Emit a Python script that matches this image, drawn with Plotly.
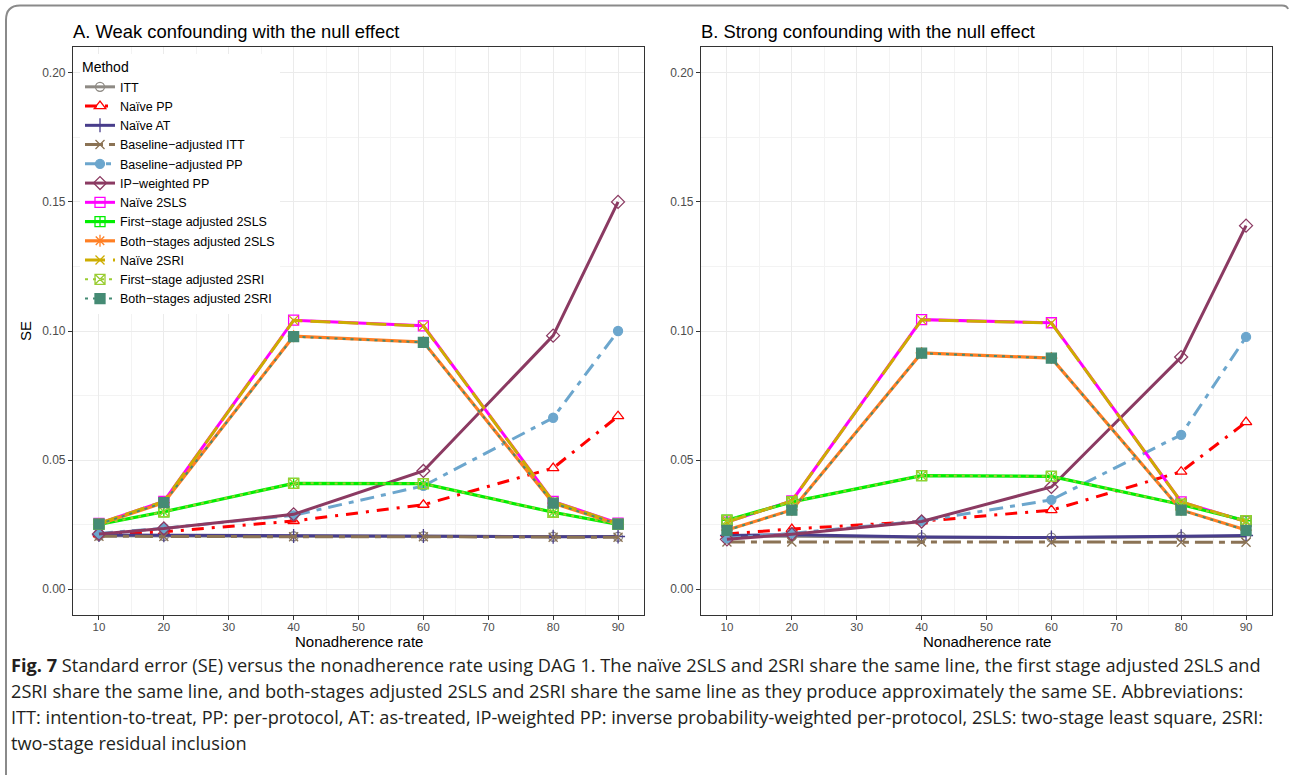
import plotly.graph_objects as go

W, H = 1290, 775

nonadherence = [10, 20, 40, 60, 80, 90]

methods = ["ITT", "Naïve PP", "Naïve AT", "Baseline−adjusted ITT", "Baseline−adjusted PP",
           "IP−weighted PP", "Naïve 2SLS", "First−stage adjusted 2SLS", "Both−stages adjusted 2SLS",
           "Naïve 2SRI", "First−stage adjusted 2SRI", "Both−stages adjusted 2SRI"]

# Panel A: weak confounding
itt_a = [0.0207, 0.0206, 0.0205, 0.0205, 0.0203, 0.0203]
naive_pp_a = [0.0212, 0.0222, 0.0264, 0.0327, 0.0469, 0.0670]
naive_at_a = [0.0210, 0.0209, 0.0206, 0.0206, 0.0203, 0.0204]
base_itt_a = [0.0205, 0.0204, 0.0203, 0.0203, 0.0201, 0.0201]
base_pp_a = [0.0216, 0.0236, 0.0286, 0.0400, 0.0664, 0.1000]
ipw_pp_a = [0.0214, 0.0235, 0.0290, 0.0458, 0.0982, 0.1500]
naive_2sls_a = [0.0255, 0.0340, 0.1042, 0.1020, 0.0340, 0.0256]
first_2sls_a = [0.0251, 0.0300, 0.0410, 0.0409, 0.0298, 0.0251]
both_2sls_a = [0.0252, 0.0335, 0.0980, 0.0957, 0.0333, 0.0252]
naive_2sri_a = [0.0255, 0.0340, 0.1041, 0.1019, 0.0339, 0.0255]
first_2sri_a = [0.0251, 0.0300, 0.0410, 0.0409, 0.0298, 0.0251]
both_2sri_a = [0.0252, 0.0335, 0.0978, 0.0956, 0.0333, 0.0252]

# Panel B: strong confounding
itt_b = [0.0204, 0.0205, 0.0201, 0.0200, 0.0203, 0.0205]
naive_pp_b = [0.0214, 0.0233, 0.0263, 0.0306, 0.0455, 0.0647]
naive_at_b = [0.0208, 0.0211, 0.0202, 0.0200, 0.0205, 0.0208]
base_itt_b = [0.0183, 0.0183, 0.0183, 0.0182, 0.0182, 0.0182]
base_pp_b = [0.0197, 0.0216, 0.0264, 0.0346, 0.0598, 0.0977]
ipw_pp_b = [0.0193, 0.0213, 0.0262, 0.0396, 0.0899, 0.1408]
naive_2sls_b = [0.0260, 0.0342, 0.1044, 0.1032, 0.0338, 0.0262]
first_2sls_b = [0.0267, 0.0338, 0.0440, 0.0437, 0.0328, 0.0265]
both_2sls_b = [0.0229, 0.0307, 0.0915, 0.0895, 0.0307, 0.0229]
naive_2sri_b = [0.0260, 0.0342, 0.1043, 0.1031, 0.0338, 0.0262]
first_2sri_b = [0.0267, 0.0338, 0.0440, 0.0437, 0.0328, 0.0265]
both_2sri_b = [0.0228, 0.0306, 0.0914, 0.0895, 0.0306, 0.0228]

panel_a = [itt_a, naive_pp_a, naive_at_a, base_itt_a, base_pp_a, ipw_pp_a,
           naive_2sls_a, first_2sls_a, both_2sls_a, naive_2sri_a, first_2sri_a, both_2sri_a]
panel_b = [itt_b, naive_pp_b, naive_at_b, base_itt_b, base_pp_b, ipw_pp_b,
           naive_2sls_b, first_2sls_b, both_2sls_b, naive_2sri_b, first_2sri_b, both_2sri_b]

colors = ["#8E8A84", "#FF0000", "#483D8B", "#8B7355", "#6CA6CD", "#8B3A62",
          "#FF00FF", "#00EE00", "#FF7F24", "#CDAD00", "#9ACD32", "#458B74"]
symbols = ["circle-open", "triangle-up-open", "cross-thin-open", "x-thin-open", "circle",
           "diamond-open", "square-open", "square-cross-open", "asterisk-open", "x-thin-open",
           "square-x-open", "square"]
dashes = ["solid", "12px,8px,3px,8px", "solid", "18px,6px,6px,6px", "14px,7px,5px,7px", "solid",
          "solid", "solid", "solid", "20px,8px", "3px,5px", "3px,5px"]
widths = [3, 3, 3, 3, 3, 3, 3, 3.2, 3.2, 3, 2, 2]
msizes = [9, 10, 10, 9, 9, 10, 10, 10, 10, 9, 10, 10]

fig = go.Figure()

for panel, (xa, ya) in [(panel_a, ("x", "y")), (panel_b, ("x2", "y2"))]:
    for i, name in enumerate(methods):
        fig.add_trace(go.Scatter(
            x=nonadherence, y=panel[i], mode="lines+markers", name=name,
            legendgroup=name, showlegend=(xa == "x"),
            line=dict(color=colors[i], width=widths[i], dash=dashes[i]),
            marker=dict(symbol=symbols[i], size=msizes[i], color=colors[i],
                        line=dict(color=colors[i], width=1.3)),
            xaxis=xa, yaxis=ya,
        ))

px = lambda v: v / W
py = lambda v: 1 - v / H

FONT = "Liberation Sans, Arial, sans-serif"
axis_common = dict(
    showline=True, mirror=True, linecolor="#333333", linewidth=1.2,
    ticks="outside", ticklen=4, tickcolor="#333333", tickwidth=1,
    showgrid=True, gridcolor="#EBEBEB", gridwidth=1.1, zeroline=False,
    tickfont=dict(family=FONT, size=12, color="#4D4D4D"),
)
xaxis_common = dict(axis_common, range=[6, 94], tickvals=[10, 20, 30, 40, 50, 60, 70, 80, 90],
                    tickfont=dict(family=FONT, size=11.5, color="#4D4D4D"),
                    ticklabelstandoff=-3,
                    minor=dict(tickvals=[15, 25, 35, 45, 55, 65, 75, 85], showgrid=True,
                               gridcolor="#F3F3F3", gridwidth=0.6, ticks=""))
yaxis_common = dict(axis_common, range=[-0.01, 0.21], tickvals=[0, 0.05, 0.10, 0.15, 0.20],
                    tickformat=".2f",
                    minor=dict(tickvals=[0.025, 0.075, 0.125, 0.175], showgrid=True,
                               gridcolor="#F3F3F3", gridwidth=0.6, ticks=""))

y_dom = [py(615), py(47)]
fig.update_layout(
    width=W, height=H,
    margin=dict(l=0, r=0, t=0, b=0),
    paper_bgcolor="white", plot_bgcolor="white",
    font=dict(family=FONT, color="#000000"),
    xaxis=dict(xaxis_common, domain=[px(73), px(644)], anchor="y"),
    yaxis=dict(yaxis_common, domain=y_dom, anchor="x",
               title=dict(text="SE", standoff=6,
                          font=dict(family=FONT, size=15, color="#000000"))),
    xaxis2=dict(xaxis_common, domain=[px(701), px(1272)], anchor="y2"),
    yaxis2=dict(yaxis_common, domain=y_dom, anchor="x2"),
    legend=dict(
        x=px(80), y=py(54), xanchor="left", yanchor="top",
        bgcolor="white", borderwidth=0,
        title=dict(text="Method", font=dict(size=14, color="#000000")),
        font=dict(family=FONT, size=12.5, color="#000000"),
        tracegroupgap=0, itemwidth=30,
    ),
    showlegend=True,
)

axis_title_font = dict(family=FONT, size=15, color="#000000")
for cx in (358.5, 986.5):
    fig.add_annotation(text="Nonadherence rate", xref="paper", yref="paper",
                       x=px(cx), y=py(641), xanchor="center", yanchor="middle",
                       showarrow=False, font=axis_title_font)

title_font = dict(family=FONT, size=18.4, color="#000000")
fig.add_annotation(text="A. Weak confounding with the null effect", xref="paper", yref="paper",
                   x=px(71), y=py(31), xanchor="left", yanchor="middle", showarrow=False, font=title_font)
fig.add_annotation(text="B. Strong confounding with the null effect", xref="paper", yref="paper",
                   x=px(699), y=py(31), xanchor="left", yanchor="middle", showarrow=False, font=title_font)

caption_lines = [
    "<b>Fig. 7</b> Standard error (SE) versus the nonadherence rate using DAG 1. The naïve 2SLS and 2SRI share the same line, the first stage adjusted 2SLS and",
    "2SRI share the same line, and both-stages adjusted 2SLS and 2SRI share the same line as they produce approximately the same SE. Abbreviations:",
    "ITT: intention-to-treat, PP: per-protocol, AT: as-treated, IP-weighted PP: inverse probability-weighted per-protocol, 2SLS: two-stage least square, 2SRI:",
    "two-stage residual inclusion",
]
caption_y = [665, 691, 717, 743]
for line, yy in zip(caption_lines, caption_y):
    fig.add_annotation(text=line, xref="paper", yref="paper", x=px(9), y=py(yy),
                       xanchor="left", yanchor="middle", showarrow=False,
                       font=dict(family="Open Sans, sans-serif", size=18.2, color="#231F20"))

# outer frame (rounded top corners)
frame_path = (f"M {px(6)},{py(775)} L {px(6)},{py(20)} Q {px(6)},{py(5.5)} {px(20)},{py(5.5)} "
              f"L {px(1282)},{py(5.5)} Q {px(1287)},{py(5.5)} {px(1288)},{py(9)}")
fig.add_shape(type="path", path=frame_path, xref="paper", yref="paper",
              line=dict(color="#8A8A8A", width=2))

fig.write_html("out.html")
